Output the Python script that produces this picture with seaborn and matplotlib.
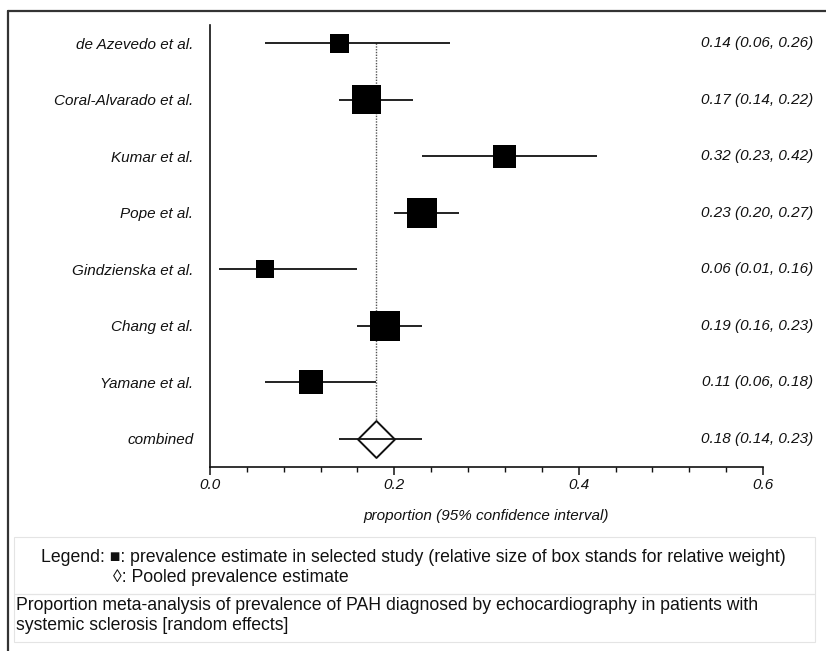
import numpy as np
import pandas as pd
import seaborn as sns
import matplotlib.pyplot as plt
from matplotlib.lines import Line2D
from matplotlib.patches import Rectangle
from matplotlib.ticker import MultipleLocator, FormatStrFormatter
import matplotlib.transforms as mtransforms

# Datos del forest plot
studies = ["de Azevedo et al.", "Coral-Alvarado et al.", "Kumar et al.", "Pope et al.",
           "Gindzienska et al.", "Chang et al.", "Yamane et al."]
estimate = [0.14, 0.17, 0.32, 0.23, 0.06, 0.19, 0.11]
lower = [0.06, 0.14, 0.23, 0.20, 0.01, 0.16, 0.06]
upper = [0.26, 0.22, 0.42, 0.27, 0.16, 0.23, 0.18]
# peso relativo (%) estimado a partir del area de las cajas
weight = [8.1, 19.0, 11.9, 20.3, 7.3, 20.3, 13.0]

pooled_label = "combined"
pooled_est = 0.18
pooled_lo = 0.14
pooled_hi = 0.23

xticks = [0.0, 0.2, 0.4, 0.6]

sns.set_style("white")
plt.rcParams['font.family'] = ['Liberation Sans', 'DejaVu Sans']

df = pd.DataFrame({"study": studies, "est": estimate, "lo": lower, "hi": upper, "w": weight})
df["pos"] = np.arange(len(df))
pooled_pos = len(df)
df_pool = pd.DataFrame({"est": [pooled_est], "pos": [pooled_pos]})

fig = plt.figure(figsize=(8.26, 6.51), dpi=100)
W, H = 826, 651
ax = fig.add_axes([210 / W, 1 - 467 / H, (763 - 210) / W, (467 - 25) / H])

ink = "#111111"

# linea punteada del estimado combinado
ax.vlines(pooled_est, 0, pooled_pos, colors="#555555", linestyles=(0, (1, 1)), lw=1.0, zorder=1)

# intervalos de confianza
ax.hlines(df["pos"], df["lo"], df["hi"], colors=ink, lw=1.3, zorder=2)

# cajas con tamaño segun el peso
k = 23.0
sns.scatterplot(data=df, x="est", y="pos", size="w",
                sizes=(min(weight) * k, max(weight) * k),
                marker="s", color="black", linewidth=0, legend=False, ax=ax, zorder=3)

# diamante del combinado
sns.scatterplot(data=df_pool, x="est", y="pos", marker="D", s=354,
                facecolor="white", edgecolor=ink, linewidth=1.4, legend=False, ax=ax, zorder=3)
ax.hlines(pooled_pos, pooled_lo, pooled_hi, colors=ink, lw=1.3, zorder=4)

ax.set_xlim(0, 0.6)
ax.set_ylim(7.5, -0.32)

ax.set_yticks(list(range(len(studies) + 1)))
ax.set_yticklabels(studies + [pooled_label], fontstyle="italic", fontsize=11, color=ink)
ax.tick_params(axis="y", length=0, pad=12)

ax.set_xticks(xticks)
ax.xaxis.set_major_formatter(FormatStrFormatter("%.1f"))
ax.xaxis.set_minor_locator(MultipleLocator(0.04))
ax.tick_params(axis="x", which="major", direction="out", length=6, width=1.1,
               color=ink, labelcolor=ink, labelsize=11, pad=2, bottom=True)
ax.tick_params(axis="x", which="minor", direction="out", length=3.5, width=1.0,
               color=ink, bottom=True)
for t in ax.get_xticklabels():
    t.set_fontstyle("italic")

ax.set_xlabel("proportion (95% confidence interval)", fontstyle="italic", fontsize=11,
              labelpad=12, color=ink)
ax.set_ylabel("")

for s in ["top", "right"]:
    ax.spines[s].set_visible(False)
for s in ["left", "bottom"]:
    ax.spines[s].set_color(ink)
    ax.spines[s].set_linewidth(1.2)

# columna derecha con estimado (IC 95%)
trans = mtransforms.blended_transform_factory(ax.transAxes, ax.transData)
for p, e, l, u in zip(df["pos"], estimate, lower, upper):
    ax.text(1.0904, p, f"{e:.2f} ({l:.2f}, {u:.2f})", transform=trans,
            ha="right", va="center", fontstyle="italic", fontsize=11, color=ink)
ax.text(1.0904, pooled_pos, f"{pooled_est:.2f} ({pooled_lo:.2f}, {pooled_hi:.2f})",
        transform=trans, ha="right", va="center", fontstyle="italic", fontsize=11, color=ink)

# marco exterior
fig.add_artist(Line2D([8 / W, 8 / W], [0, 1 - 11 / H], transform=fig.transFigure, color="#333333", lw=1.6))
fig.add_artist(Line2D([8 / W, 1], [1 - 11 / H, 1 - 11 / H], transform=fig.transFigure, color="#333333", lw=1.6))

# cajas de leyenda y pie
fig.add_artist(Rectangle((14 / W, 1 - 594 / H), (815 - 14) / W, (594 - 537) / H,
                         transform=fig.transFigure, fill=False, edgecolor="#e4e4e4", lw=0.8))
fig.add_artist(Rectangle((14 / W, 1 - 642 / H), (815 - 14) / W, (642 - 594) / H,
                         transform=fig.transFigure, fill=False, edgecolor="#e4e4e4", lw=0.8))

fs_box = 12.7
fig.text(41 / W, 1 - 557 / H,
         "Legend: \u25a0: prevalence estimate in selected study (relative size of box stands for relative weight)",
         ha="left", va="center", fontsize=fs_box, color=ink)
fig.text(113 / W, 1 - 577 / H, "\u25ca: Pooled prevalence estimate",
         ha="left", va="center", fontsize=fs_box, color=ink)
fig.text(16 / W, 1 - 606 / H,
         "Proportion meta-analysis of prevalence of PAH diagnosed by echocardiography in patients with",
         ha="left", va="center", fontsize=fs_box, color=ink)
fig.text(16 / W, 1 - 626 / H, "systemic sclerosis [random effects]",
         ha="left", va="center", fontsize=fs_box, color=ink)

fig.savefig("out.png", dpi=100)
